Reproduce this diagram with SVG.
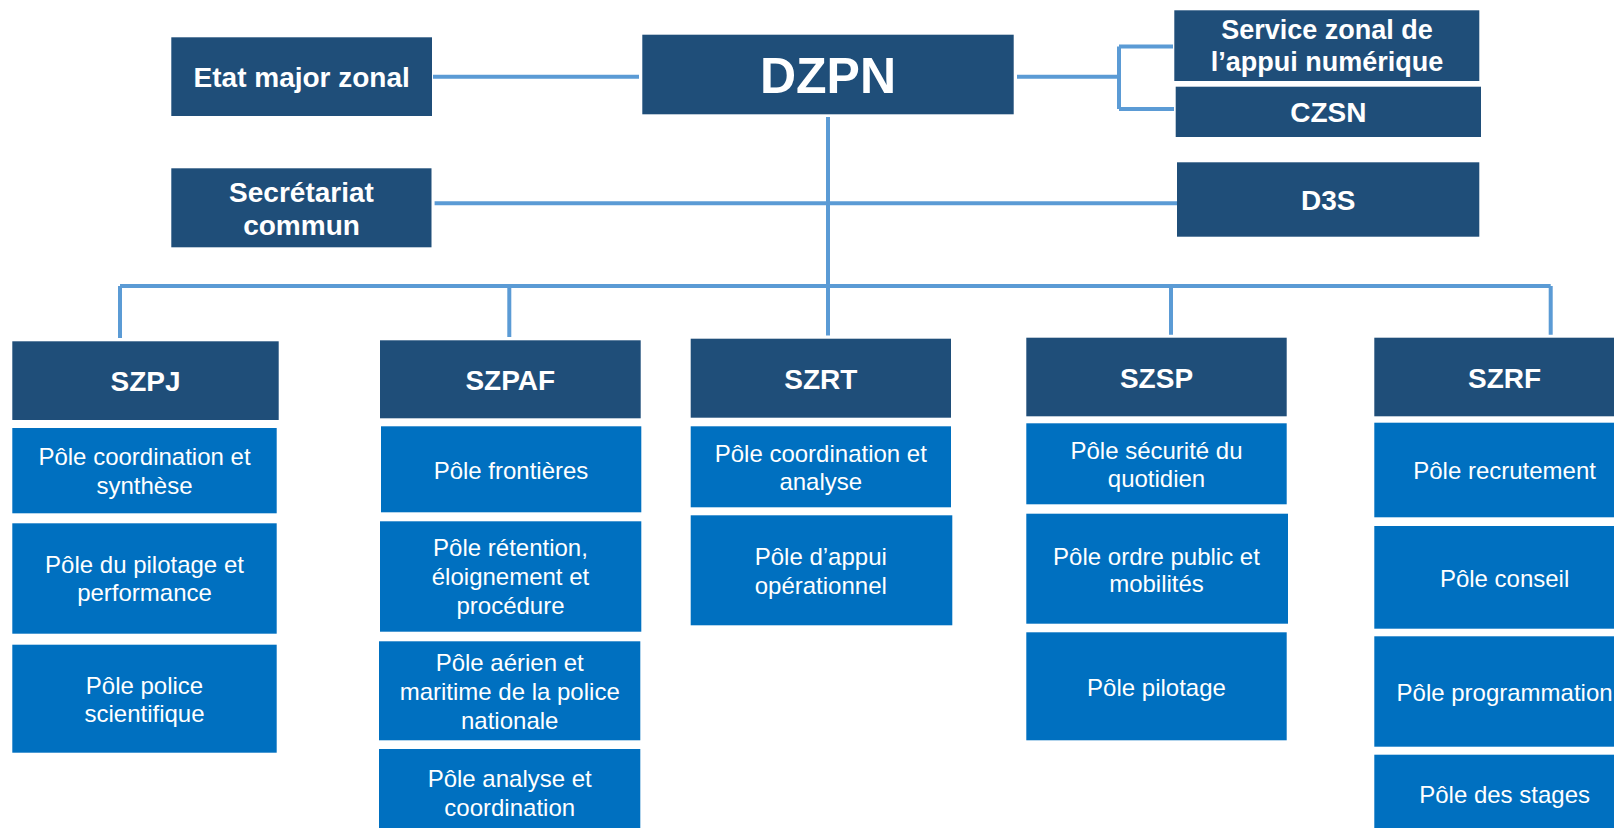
<svg xmlns="http://www.w3.org/2000/svg" width="1614" height="828" viewBox="0 0 1614 828">
<style>
.hd{fill:#1F4E79}
.pl{fill:#0070C0}
.ht{font-family:"Liberation Sans",Arial,sans-serif;font-weight:bold;font-size:28px;fill:#fff;text-anchor:middle}
.pt{font-family:"Liberation Sans",Arial,sans-serif;font-size:24px;fill:#fff;text-anchor:middle}
.cn{stroke:#5B9BD5;stroke-width:4;fill:none}
</style>
<rect width="1614" height="828" fill="#fff"/>
<g id="connectors" class="cn">
<path d="M433,76.7H639"/>
<path d="M1017,76.7H1119"/>
<path d="M1119,46.5V109M1119,46.5H1173M1119,109H1174"/>
<path d="M828,117V335.5"/>
<path d="M434.6,203.3H1177"/>
<path d="M120,286H1550.7"/>
<path d="M120,286V338M509.3,286V337M1171,286V334.7M1550.7,286V334.7"/>
</g>
<g id="etat-major"><rect class="hd" x="171.3" y="37.3" width="260.7" height="78.7"/><text class="ht" x="301.7" y="87.3">Etat major zonal</text></g>
<g id="secretariat"><rect class="hd" x="171.3" y="168.3" width="260.2" height="79"/><text class="ht" x="301.5" y="201.7">Secrétariat</text><text class="ht" x="301.5" y="235">commun</text></g>
<g id="dzpn"><rect class="hd" x="642.3" y="34.7" width="371.4" height="79.6"/><text class="ht" x="828" y="92.7" style="font-size:50px">DZPN</text></g>
<g id="szan"><rect class="hd" x="1174.3" y="10.3" width="305" height="70.7"/><text class="ht" x="1327" y="39.3" style="font-size:27px">Service zonal de</text><text class="ht" x="1327" y="71" style="font-size:27px">l’appui numérique</text></g>
<g id="czsn"><rect class="hd" x="1175.7" y="86.7" width="305.3" height="50.3"/><text class="ht" x="1328.3" y="121.7">CZSN</text></g>
<g id="d3s"><rect class="hd" x="1177" y="162.3" width="302.3" height="74.4"/><text class="ht" x="1328.3" y="210">D3S</text></g>

<g id="szpj">
<rect class="hd" x="12.3" y="341.3" width="266.4" height="78.7"/><text class="ht" x="145.5" y="390.7">SZPJ</text>
<rect class="pl" x="12.3" y="428" width="264.4" height="85.3"/><text class="pt" x="144.5" y="465.3">Pôle coordination et</text><text class="pt" x="144.5" y="493.7">synthèse</text>
<rect class="pl" x="12.3" y="523.3" width="264.4" height="110.4"/><text class="pt" x="144.5" y="573">Pôle du pilotage et</text><text class="pt" x="144.5" y="601.3">performance</text>
<rect class="pl" x="12.3" y="644.7" width="264.4" height="108"/><text class="pt" x="144.5" y="694">Pôle police</text><text class="pt" x="144.5" y="722.3">scientifique</text>
</g>
<g id="szpaf">
<rect class="hd" x="380" y="340.3" width="260.7" height="78"/><text class="ht" x="510.3" y="389.7">SZPAF</text>
<rect class="pl" x="381" y="426.3" width="260.3" height="86"/><text class="pt" x="511" y="478.7">Pôle frontières</text>
<rect class="pl" x="380" y="521.3" width="261.3" height="110.4"/><text class="pt" x="510.5" y="556.3">Pôle rétention,</text><text class="pt" x="510.5" y="585">éloignement et</text><text class="pt" x="510.5" y="613.5">procédure</text>
<rect class="pl" x="379" y="641.3" width="261.3" height="99"/><text class="pt" x="509.7" y="670.7">Pôle aérien et</text><text class="pt" x="509.7" y="699.7">maritime de la police</text><text class="pt" x="509.7" y="728.7">nationale</text>
<rect class="pl" x="379" y="749" width="261.3" height="90"/><text class="pt" x="509.7" y="787">Pôle analyse et</text><text class="pt" x="509.7" y="815.7">coordination</text>
</g>
<g id="szrt">
<rect class="hd" x="690.7" y="338.7" width="260.3" height="79"/><text class="ht" x="820.8" y="389">SZRT</text>
<rect class="pl" x="690.7" y="426.3" width="260.3" height="81"/><text class="pt" x="820.8" y="462">Pôle coordination et</text><text class="pt" x="820.8" y="490">analyse</text>
<rect class="pl" x="690.7" y="515.3" width="261.6" height="110"/><text class="pt" x="820.8" y="565.3">Pôle d’appui</text><text class="pt" x="820.8" y="594">opérationnel</text>
</g>
<g id="szsp">
<rect class="hd" x="1026.3" y="337.7" width="260.4" height="78.6"/><text class="ht" x="1156.5" y="388">SZSP</text>
<rect class="pl" x="1026.3" y="423.3" width="260.4" height="81"/><text class="pt" x="1156.5" y="459">Pôle sécurité du</text><text class="pt" x="1156.5" y="487">quotidien</text>
<rect class="pl" x="1026.3" y="513.7" width="261.7" height="110"/><text class="pt" x="1156.5" y="564.7">Pôle ordre public et</text><text class="pt" x="1156.5" y="592.3">mobilités</text>
<rect class="pl" x="1026.3" y="632.3" width="260.4" height="108"/><text class="pt" x="1156.5" y="696.3">Pôle pilotage</text>
</g>
<g id="szrf">
<rect class="hd" x="1374.3" y="337.7" width="261" height="78.6"/><text class="ht" x="1504.6" y="388">SZRF</text>
<rect class="pl" x="1374.3" y="422.7" width="261" height="94.6"/><text class="pt" x="1504.6" y="479">Pôle recrutement</text>
<rect class="pl" x="1374.3" y="526" width="261" height="102.7"/><text class="pt" x="1504.6" y="587">Pôle conseil</text>
<rect class="pl" x="1374.3" y="636.3" width="261" height="110.4"/><text class="pt" x="1504.6" y="700.7">Pôle programmation</text>
<rect class="pl" x="1374.3" y="754.7" width="261" height="90"/><text class="pt" x="1504.6" y="803">Pôle des stages</text>
</g>
</svg>
